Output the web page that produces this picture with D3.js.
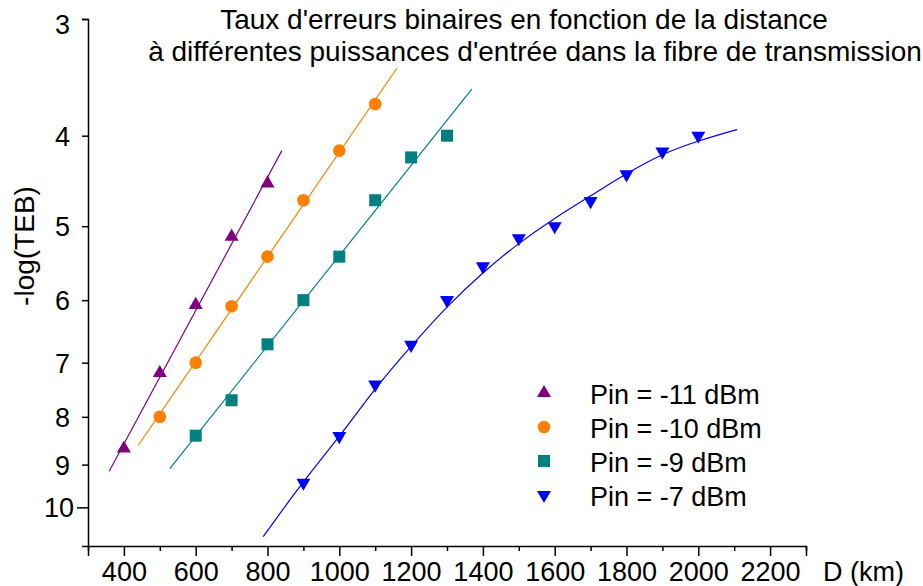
<!DOCTYPE html>
<html>
<head>
<meta charset="utf-8">
<script src="https://cdn.jsdelivr.net/npm/d3@7"></script>
<style>
  body { margin: 0; background: #fff; }
  svg { display: block; font-family: "Liberation Sans", Arial, sans-serif; }
  .axis path, .axis line { stroke: #000; stroke-width: 1.5px; }
  .axis text { font-size: 27px; fill: #000; }
</style>
</head>
<body>
<svg id="chart" width="923" height="586"></svg>
<script>
// measured points, -log(TEB) vs distance (km)
var dist11 = [400, 500, 600, 700, 800];
var teb11 = [8.65, 7.18, 6.07, 5.13, 4.50];
var dist10 = [500, 600, 700, 800, 900, 1000, 1100];
var teb10 = [8.0, 7.0, 6.09, 5.39, 4.69, 4.15, 3.70];
var dist9 = [600, 700, 800, 900, 1000, 1100, 1200, 1300];
var teb9 = [8.38, 7.68, 6.69, 6.0, 5.39, 4.69, 4.22, 4.00];
var dist7 = [900, 1000, 1100, 1200, 1300, 1400, 1500, 1600, 1700, 1800, 1900, 2000];
var teb7 = [9.41, 8.39, 7.39, 6.70, 6.00, 5.52, 5.15, 5.00, 4.70, 4.40, 4.16, 4.00];

// fitted curves
var fitDist11 = [359, 840];
var fitTeb11 = [9.15, 4.15];
var fitDist10 = [440, 1161];
var fitTeb10 = [8.58, 3.385];
var fitDist9 = [528, 1369];
var fitTeb9 = [9.09, 3.567];
var fitDist7 = [788, 900, 1000, 1100, 1200, 1300, 1400, 1500, 1600, 1700, 1800, 1900, 2000, 2108];
var fitTeb7 = [10.75, 9.37, 8.41, 7.45, 6.72, 6.09, 5.60, 5.21, 4.90, 4.64, 4.39, 4.18, 4.05, 3.94];

var seriesNames = ["Pin = -11 dBm", "Pin = -10 dBm", "Pin = -9 dBm", "Pin = -7 dBm"];
var yTicks = [3, 4, 5, 6, 7, 8, 9, 10];
var xTicks = d3.range(300, 2301, 100);
var titleLines = ["Taux d'erreurs binaires en fonction de la distance",
                  "à différentes puissances d'entrée dans la fibre de transmission"];

function zip(xs, ys) {
  return xs.map(function(d, i) { return {d: d, t: ys[i]}; });
}

var series = [
  {name: seriesNames[0], color: "#800080", symbol: d3.symbolTriangle, size: 85, rot: 0,
   pts: zip(dist11, teb11), fit: zip(fitDist11, fitTeb11)},
  {name: seriesNames[1], color: "#ff8000", symbol: d3.symbolCircle, size: 125, rot: 0,
   pts: zip(dist10, teb10), fit: zip(fitDist10, fitTeb10)},
  {name: seriesNames[2], color: "#008080", symbol: d3.symbolSquare, size: 144, rot: 0,
   pts: zip(dist9, teb9), fit: zip(fitDist9, fitTeb9)},
  {name: seriesNames[3], color: "#0000ff", symbol: d3.symbolTriangle, size: 85, rot: 180,
   pts: zip(dist7, teb7), fit: zip(fitDist7, fitTeb7)}
];

var svg = d3.select("#chart");

var x = d3.scaleLinear().domain([300, 2300]).range([88, 806]);
var y = d3.scaleLog().domain([3, 11]).range([19, 546]);

// x axis
var xAxis = d3.axisBottom(x)
    .tickValues(xTicks)
    .tickSizeOuter(0)
    .tickSize(10)
    .tickPadding(8)
    .tickFormat(function(d) { return d % 200 == 0 ? d : ""; });

var gx = svg.append("g")
    .attr("class", "axis axis--x")
    .attr("transform", "translate(0,546)")
    .call(xAxis);
gx.selectAll(".tick line")
    .attr("y2", function(d) { return d % 200 == 0 ? 10 : 5; });
gx.selectAll(".tick text")
    .attr("y", 16)
    .attr("dy", "0.71em");

svg.append("text")
    .attr("x", 823)
    .attr("y", 581)
    .attr("font-size", 27)
    .text("D (km)");

// y axis
var yAxis = d3.axisLeft(y)
    .tickValues(yTicks)
    .tickSizeOuter(0)
    .tickSize(6)
    .tickFormat(d3.format("d"));

var gy = svg.append("g")
    .attr("class", "axis axis--y")
    .attr("transform", "translate(88,0)")
    .call(yAxis);
gy.selectAll(".tick line")
    .attr("x2", function(d) { return d == 10 ? -11 : -6; });
gy.selectAll(".tick text")
    .attr("x", function(d) { return d == 10 ? -14 : -18; })
    .attr("dy", function(d) { return d == 3 ? "0.55em" : "0.35em"; });

svg.append("text")
    .attr("transform", "translate(34,246) rotate(-90)")
    .attr("text-anchor", "middle")
    .attr("font-size", 28)
    .text("-log(TEB)");

// title
svg.selectAll(".title")
    .data(titleLines)
  .enter().append("text")
    .attr("class", "title")
    .attr("x", function(d, i) { return i == 0 ? 524 : 535; })
    .attr("y", function(d, i) { return 29 + i * 32; })
    .attr("text-anchor", "middle")
    .attr("font-size", 28)
    .text(function(d) { return d; });

// fits
var line = d3.line()
    .x(function(p) { return x(p.d); })
    .y(function(p) { return y(p.t); });

series.forEach(function(s, i) {
  var lg = i == 3 ? line.curve(d3.curveBasis) : line.curve(d3.curveLinear);
  svg.append("path")
      .datum(s.fit)
      .attr("fill", "none")
      .attr("stroke", s.color)
      .attr("stroke-width", 1.2)
      .attr("d", lg);
});

// markers
series.forEach(function(s) {
  var sym = d3.symbol().type(s.symbol).size(s.size);
  svg.selectAll(null)
      .data(s.pts)
    .enter().append("path")
      .attr("d", sym)
      .attr("fill", s.color)
      .attr("transform", function(p) {
        return "translate(" + x(p.d) + "," + y(p.t) + ") rotate(" + s.rot + ")";
      });
});

// legend
var legend = svg.selectAll(".legend")
    .data(series)
  .enter().append("g")
    .attr("class", "legend")
    .attr("transform", function(d, i) { return "translate(544," + (393 + i * 34) + ")"; });

legend.append("path")
    .attr("d", function(s) { return d3.symbol().type(s.symbol).size(s.size)(); })
    .attr("fill", function(s) { return s.color; })
    .attr("transform", function(s) { return "rotate(" + s.rot + ")"; });

legend.append("text")
    .attr("x", 46)
    .attr("y", 11)
    .attr("font-size", 27)
    .text(function(s) { return s.name; });
</script>
</body>
</html>
